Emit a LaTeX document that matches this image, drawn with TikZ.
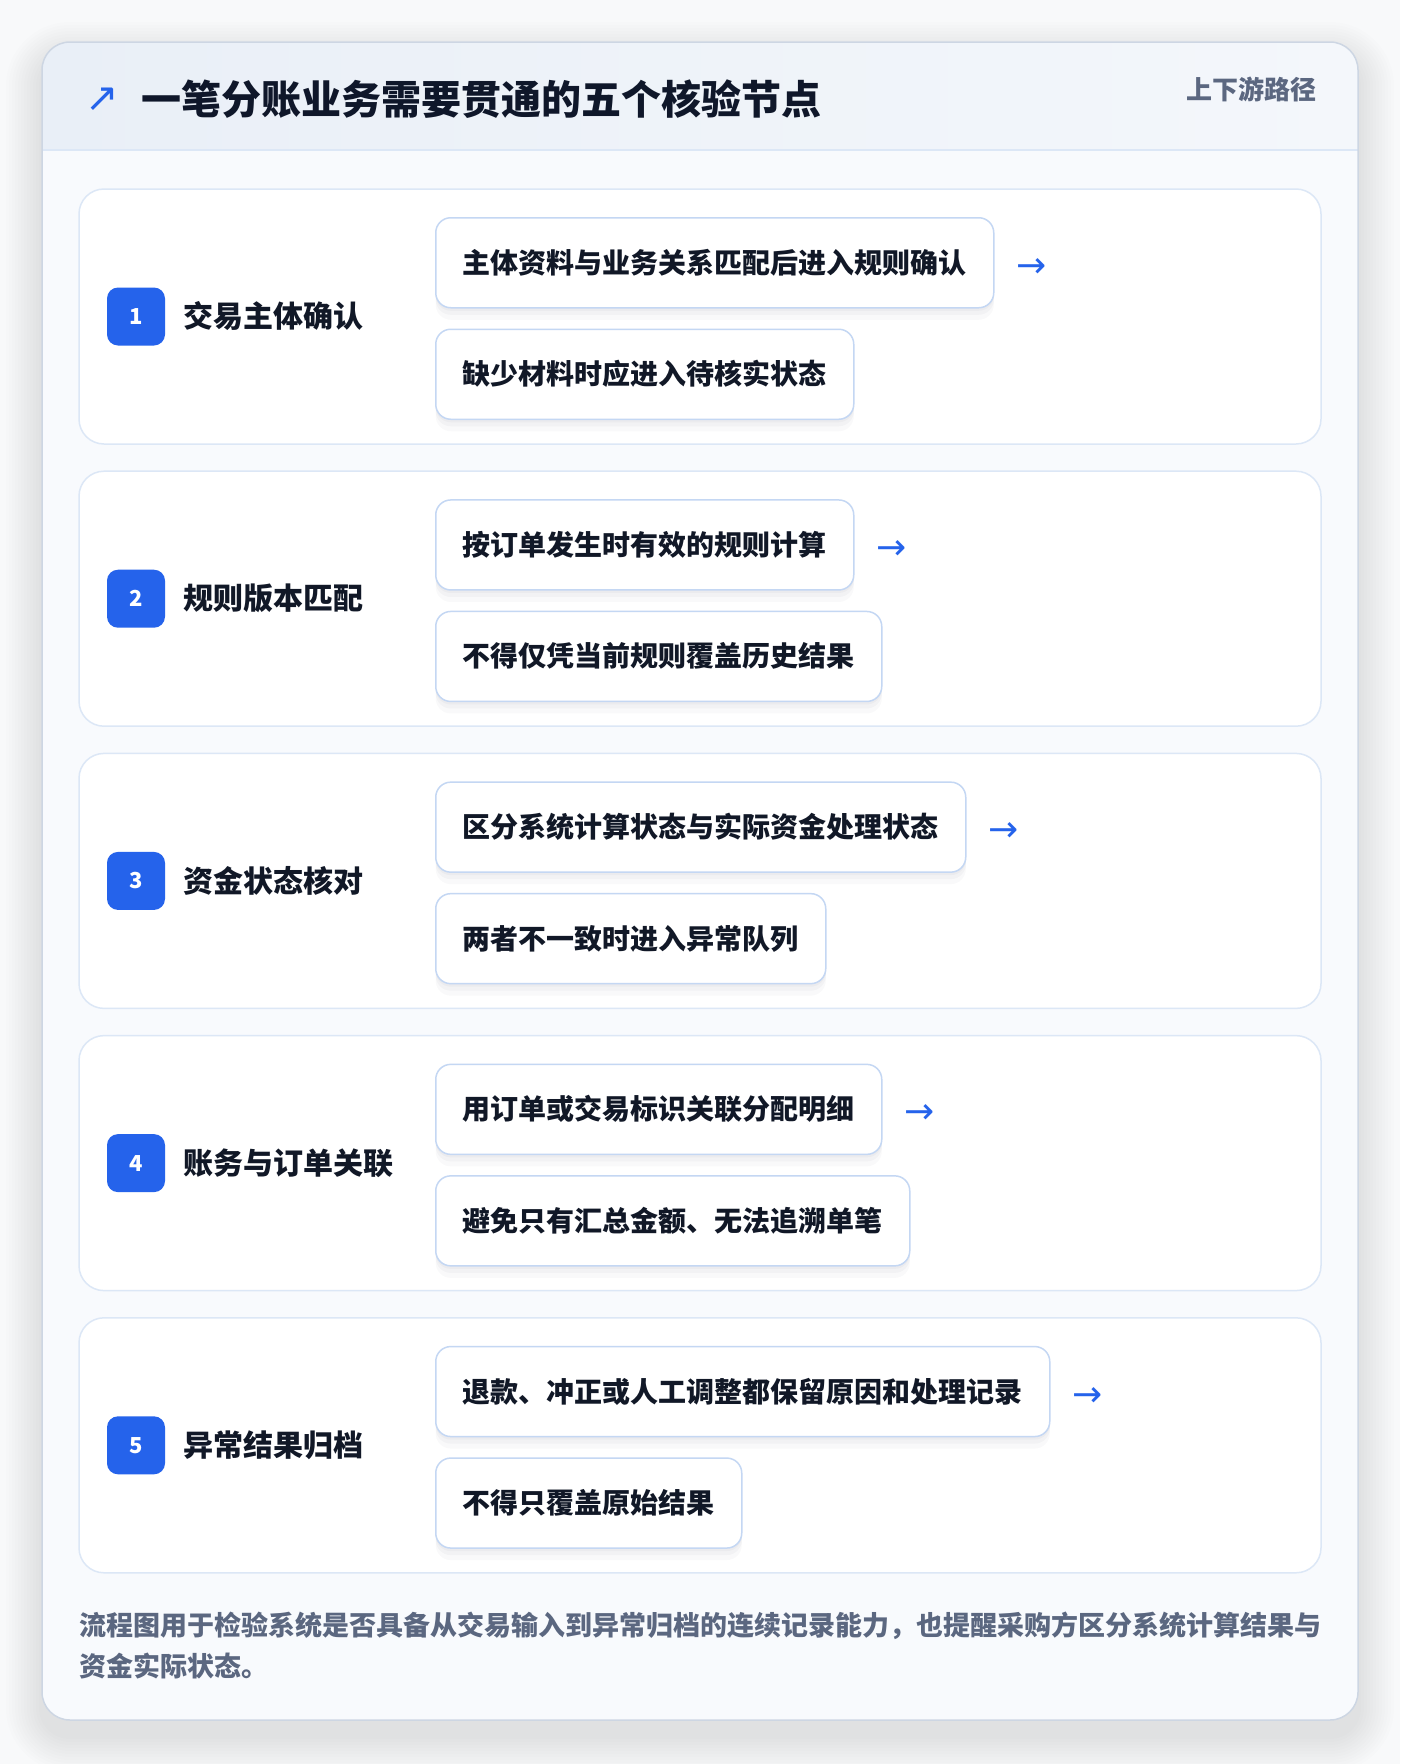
\documentclass[tikz,border=0pt]{standalone}
\usepackage{fontspec}
\setmainfont{Noto Sans CJK SC}
\newfontfamily\symfont{DejaVu Sans}
\usetikzlibrary{positioning}

\definecolor{inkdark}{HTML}{111827}
\definecolor{titleink}{HTML}{0F172A}
\definecolor{mutedink}{HTML}{5B6780}
\definecolor{accent}{HTML}{2563EB}
\definecolor{rowline}{HTML}{DCE7F6}
\definecolor{boxline}{HTML}{C4D7F3}
\definecolor{cardline}{HTML}{CDD6E3}
\definecolor{cardfill}{HTML}{F8FAFD}
\definecolor{headleft}{HTML}{E9EFF7}
\definecolor{headright}{HTML}{F4F7FB}
\definecolor{pagefill}{HTML}{F8F9FA}
\definecolor{shadowink}{HTML}{1E293B}

\tikzset{
  rowpanel/.style={draw=rowline, line width=1.5pt, fill=white, rounded corners=25pt},
  badge/.style={fill=accent, text=white, rounded corners=11pt, minimum size=58pt, inner sep=0pt,
    font=\fontsize{22}{22}\selectfont\bfseries},
  steplabel/.style={anchor=west, inner sep=0pt, text=inkdark, font=\fontsize{30}{30}\selectfont\bfseries},
  checkbox/.style={draw=boxline, line width=1.5pt, fill=white, rounded corners=15pt,
    minimum height=90pt, inner xsep=27pt, text height=24pt, text depth=3pt, text=inkdark,
    font=\fontsize{28}{28}\selectfont\bfseries,
    preaction={fill=shadowink, fill opacity=0.025, draw=none, transform canvas={yshift=-12pt}},
    preaction={fill=shadowink, fill opacity=0.03, draw=none, transform canvas={yshift=-7pt}},
    preaction={fill=shadowink, fill opacity=0.03, draw=none, transform canvas={yshift=-3pt}}},
  flowarrow/.style={text=accent, inner sep=0pt, font=\symfont\fontsize{36}{36}\selectfont},
}

\begin{document}
\begin{tikzpicture}[x=1pt,y=-1pt]
  \useasboundingbox[fill=pagefill] (0,0) rectangle (1400,1764);

  % card with soft shadow
  \foreach \s in {3,6,...,36}
    \fill[shadowink, fill opacity=0.007, rounded corners=28pt+\s]
      (42-\s,42-\s+16) rectangle (1358+\s,1720+\s+16);
  \fill[cardfill, rounded corners=28pt] (42,42) rectangle (1358,1720);
  \begin{scope}
    \clip[rounded corners=28pt] (42,42) rectangle (1358,1720);
    \shade[left color=headleft, right color=headright] (42,42) rectangle (1358,150);
  \end{scope}
  \draw[rowline, line width=1.5pt] (42,150) -- (1358,150);
  \draw[cardline, line width=1.5pt, rounded corners=28pt] (42,42) rectangle (1358,1720);

  % header
  \node[text=accent, inner sep=0pt, font=\symfont\fontsize{40}{40}\selectfont] (icon) at (102,100) {↗};
  \node[anchor=west, inner sep=0pt, text=titleink, font=\fontsize{40}{40}\selectfont\bfseries] (title) at (141,99)
    {一笔分账业务需要贯通的五个核验节点};
  \node[anchor=east, inner sep=0pt, text=mutedink, font=\fontsize{26}{26}\selectfont\bfseries] (path) at (1317,89)
    {上下游路径};

  % step 1
  \draw[rowpanel] (79,189) rectangle (1321,444);
  \node[badge] (badge1) at (136,316.5) {1};
  \node[steplabel, right=18pt of badge1] (label1) {交易主体确认};
  \node[checkbox, anchor=north west] (box1a) at (435,217) {主体资料与业务关系匹配后进入规则确认};
  \node[checkbox, below right=20pt and 0pt of box1a.south west] (box1b) {缺少材料时应进入待核实状态};
  \node[flowarrow, right=22pt of box1a, yshift=-5pt] (arrow1) {→};

  % step 2
  \draw[rowpanel] (79,471.2) rectangle (1321,726.2);
  \node[badge] (badge2) at (136,598.7) {2};
  \node[steplabel, right=18pt of badge2] (label2) {规则版本匹配};
  \node[checkbox, anchor=north west] (box2a) at (435,499.2) {按订单发生时有效的规则计算};
  \node[checkbox, below right=20pt and 0pt of box2a.south west] (box2b) {不得仅凭当前规则覆盖历史结果};
  \node[flowarrow, right=22pt of box2a, yshift=-5pt] (arrow2) {→};

  % step 3
  \draw[rowpanel] (79,753.4) rectangle (1321,1008.4);
  \node[badge] (badge3) at (136,880.9) {3};
  \node[steplabel, right=18pt of badge3] (label3) {资金状态核对};
  \node[checkbox, anchor=north west] (box3a) at (435,781.4) {区分系统计算状态与实际资金处理状态};
  \node[checkbox, below right=20pt and 0pt of box3a.south west] (box3b) {两者不一致时进入异常队列};
  \node[flowarrow, right=22pt of box3a, yshift=-5pt] (arrow3) {→};

  % step 4
  \draw[rowpanel] (79,1035.6) rectangle (1321,1290.6);
  \node[badge] (badge4) at (136,1163.1) {4};
  \node[steplabel, right=18pt of badge4] (label4) {账务与订单关联};
  \node[checkbox, anchor=north west] (box4a) at (435,1063.6) {用订单或交易标识关联分配明细};
  \node[checkbox, below right=20pt and 0pt of box4a.south west] (box4b) {避免只有汇总金额、无法追溯单笔};
  \node[flowarrow, right=22pt of box4a, yshift=-5pt] (arrow4) {→};

  % step 5
  \draw[rowpanel] (79,1317.8) rectangle (1321,1572.8);
  \node[badge] (badge5) at (136,1445.3) {5};
  \node[steplabel, right=18pt of badge5] (label5) {异常结果归档};
  \node[checkbox, anchor=north west] (box5a) at (435,1345.8) {退款、冲正或人工调整都保留原因和处理记录};
  \node[checkbox, below right=20pt and 0pt of box5a.south west] (box5b) {不得只覆盖原始结果};
  \node[flowarrow, right=22pt of box5a, yshift=-5pt] (arrow5) {→};

  % footnote
  \node[anchor=west, inner sep=0pt, text=mutedink, font=\fontsize{27}{27}\selectfont\bfseries] (note1) at (79,1626)
    {流程图用于检验系统是否具备从交易输入到异常归档的连续记录能力，也提醒采购方区分系统计算结果与};
  \node[anchor=west, inner sep=0pt, text=mutedink, font=\fontsize{27}{27}\selectfont\bfseries] (note2) at (79,1666)
    {资金实际状态。};
\end{tikzpicture}
\end{document}
